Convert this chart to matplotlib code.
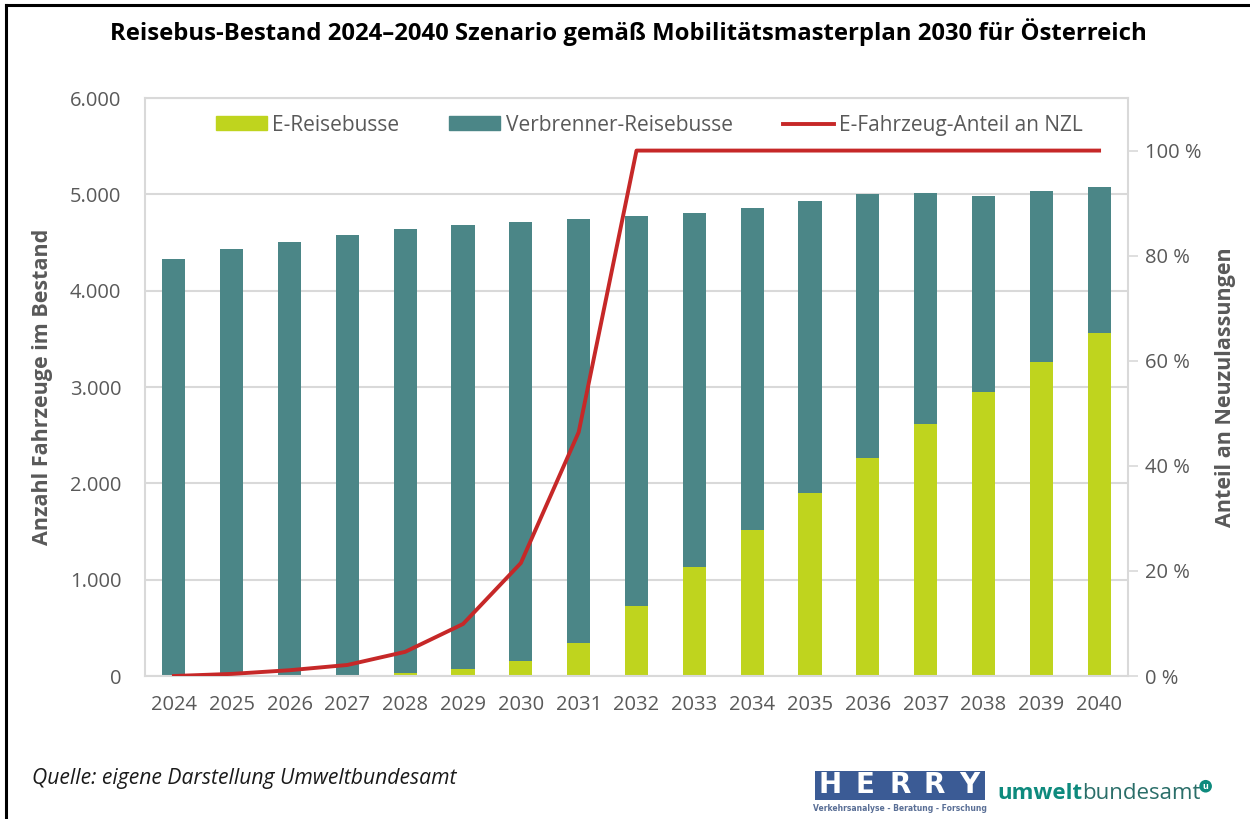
import numpy as np
import matplotlib
matplotlib.use("Agg")
import matplotlib.pyplot as plt
from matplotlib.patches import Patch, Rectangle
from matplotlib.lines import Line2D
from matplotlib.ticker import FuncFormatter

plt.rcParams["font.family"] = ["Open Sans", "DejaVu Sans"]

# Data
years = ["2024", "2025", "2026", "2027", "2028", "2029", "2030", "2031", "2032",
         "2033", "2034", "2035", "2036", "2037", "2038", "2039", "2040"]
e_busse = [2, 4, 6, 12, 30, 73, 160, 347, 731,
           1129, 1518, 1898, 2266, 2612, 2948, 3264, 3565]
verbrenner = [4322, 4424, 4501, 4565, 4609, 4605, 4549, 4393, 4043,
              3676, 3336, 3032, 2740, 2398, 2034, 1770, 1508]
e_anteil = [0, 0.4, 1.1, 2.1, 4.6, 9.9, 21.5, 46.4, 100,
            100, 100, 100, 100, 100, 100, 100, 100]

C_E = "#bfd41e"
C_V = "#4b8687"
C_LINE = "#c62828"
C_TXT = "#595959"
C_GRID = "#d9d9d9"

fig = plt.figure(figsize=(12.5, 8.19), dpi=100)
ax = fig.add_axes([0.116, 0.1746, 0.7864, 0.7057])
x = np.arange(len(years))

ax.bar(x, e_busse, width=0.4, color=C_E, zorder=2)
ax.bar(x, verbrenner, width=0.4, bottom=e_busse, color=C_V, zorder=2)

ax.set_xlim(-0.5, len(years) - 0.5)
ax.set_ylim(0, 6000)
ax.set_yticks(range(0, 6001, 1000))
ax.yaxis.set_major_formatter(FuncFormatter(lambda v, p: f"{int(v):,}".replace(",", ".")))
ax.set_xticks(x)
ax.set_xticklabels(years)
ax.grid(axis="y", color=C_GRID, linewidth=1.5, zorder=0)
ax.tick_params(axis="y", length=0, labelsize=14.5, colors=C_TXT, pad=17)
ax.tick_params(axis="x", length=0, labelsize=14.5, colors=C_TXT, pad=14)
for s in ax.spines.values():
    s.set_color(C_GRID)
    s.set_linewidth(1.5)
ax.set_ylabel("Anzahl Fahrzeuge im Bestand", fontsize=15.5, fontweight="bold",
              color=C_TXT, labelpad=12)

ax2 = ax.twinx()
ax2.plot(x, e_anteil, color=C_LINE, linewidth=2.8, zorder=3)
ax2.set_ylim(0, 110)
ax2.set_yticks(range(0, 101, 20))
ax2.set_yticklabels([f"{v} %" for v in range(0, 101, 20)])
ax2.tick_params(axis="y", length=7, width=1.2, color=C_GRID, labelsize=14.5,
                labelcolor=C_TXT, pad=5)
for s in ax2.spines.values():
    s.set_visible(False)
ax2.set_ylabel("Anteil an Neuzulassungen", fontsize=15.5, fontweight="bold",
               color=C_TXT, labelpad=10)

handles = [Patch(color=C_E, label="E-Reisebusse"),
           Patch(color=C_V, label="Verbrenner-Reisebusse"),
           Line2D([0], [0], color=C_LINE, linewidth=2.8, label="E-Fahrzeug-Anteil an NZL")]
leg = ax2.legend(handles=handles, loc="center", bbox_to_anchor=(0.513, 0.953), ncol=3,
                 frameon=False, fontsize=15, handlelength=2.45, handleheight=0.65,
                 handletextpad=0.25, columnspacing=2.4)
for t in leg.get_texts():
    t.set_color(C_TXT)

fig.text(0.5025, 0.961, "Reisebus-Bestand 2024–2040 Szenario gemäß Mobilitätsmasterplan 2030 für Österreich",
         ha="center", va="center", fontsize=17.2, fontweight="bold", color="black")

fig.text(0.026, 0.05, "Quelle: eigene Darstellung Umweltbundesamt", ha="left", va="center",
         fontsize=15.2, style="italic", color="#1a1a1a")

# border lines (left and top)
fig.add_artist(Line2D([0.005, 0.005], [0, 0.994], transform=fig.transFigure,
                      color="black", linewidth=2.2))
fig.add_artist(Line2D([0.005, 1.0], [0.994, 0.994], transform=fig.transFigure,
                      color="black", linewidth=2.2))

# HERRY logo
fig.add_artist(Rectangle((0.652, 0.0232), 0.136, 0.0354, transform=fig.transFigure,
                         facecolor="#3b5b95", edgecolor="none"))
for i, ch in enumerate("HERRY"):
    fig.text(0.664 + i * 0.0279, 0.041, ch, ha="center", va="center", fontsize=20,
             fontweight="bold", color="white", family="DejaVu Sans")
fig.text(0.72, 0.0125, "Verkehrsanalyse - Beratung - Forschung", ha="center", va="center",
         fontsize=5.5, fontweight="bold", color="#5a6f96", family="DejaVu Sans")

# umweltbundesamt logo
t1 = fig.text(0.7976, 0.024, "umwelt", ha="left", va="baseline", fontsize=16,
              fontweight="bold", color="#0e8a7d")
fig.canvas.draw()
bb = t1.get_window_extent().transformed(fig.transFigure.inverted())
t2 = fig.text(bb.x1, 0.024, "bundesamt", ha="left", va="baseline", fontsize=16,
              color="#2a6e69")
fig.canvas.draw()
bb2 = t2.get_window_extent().transformed(fig.transFigure.inverted())
fig.text(bb2.x1 + 0.004, 0.04, "u", ha="center", va="center", fontsize=6.5,
         fontweight="bold", color="white",
         bbox=dict(boxstyle="circle,pad=0.2", fc="#0e8a7d", ec="none"))

fig.savefig("out.png", dpi=100)
